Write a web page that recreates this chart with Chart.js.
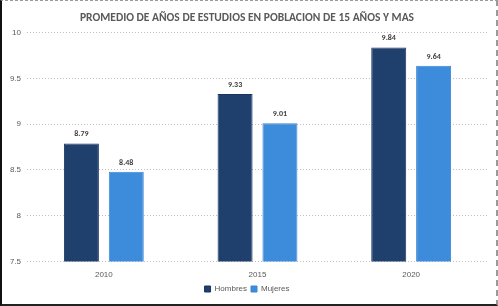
<!DOCTYPE html>
<html>
<head>
<meta charset="utf-8">
<script src="https://cdn.jsdelivr.net/npm/chart.js@4.4.0/dist/chart.umd.min.js"></script>
<style>
    html, body { margin: 0; padding: 0; background: #fff; }
    #frame {
        width: 498px; height: 306px; box-sizing: border-box;
        border-top: 1px dashed #9a9a9a; border-right: 2px dashed #9a9a9a;
        border-left: 2px solid #111; border-bottom: 2px solid #222;
        position: relative;
    }
    #wrap { position: absolute; left: 0; top: 0; right: 0; bottom: 0; }
</style>
</head>
<body>
<div id="frame"><div id="wrap"><canvas id="chart"></canvas></div></div>
<script>
// Chart data
const years = ['2010', '2015', '2020'];
const hombres = [8.79, 9.33, 9.84];
const mujeres = [8.48, 9.01, 9.64];
const yTicks = [7.5, 8, 8.5, 9, 9.5, 10];

const textColor = '#595959';

// Draws the value above each bar
const valueLabels = {
    id: 'valueLabels',
    afterDatasetsDraw(chart) {
        const ctx = chart.ctx;
        ctx.save();
        ctx.font = 'bold 8px Calibri, Carlito, "Liberation Sans", Arial, sans-serif';
        ctx.fillStyle = '#404040';
        ctx.textAlign = 'center';
        ctx.textBaseline = 'bottom';
        chart.data.datasets.forEach((ds, i) => {
            chart.getDatasetMeta(i).data.forEach((bar, j) => {
                ctx.fillText(ds.data[j].toFixed(2), bar.x, bar.y - 5);
            });
        });
        ctx.restore();
    }
};

new Chart(document.getElementById('chart'), {
    type: 'bar',
    data: {
        labels: years,
        datasets: [
            { label: 'Hombres', data: hombres, backgroundColor: '#1f3f6c', borderColor: '#1a3560', borderWidth: 1 },
            { label: 'Mujeres', data: mujeres, backgroundColor: '#3d8bdb', borderColor: '#3a86d6', borderWidth: 1 }
        ]
    },
    plugins: [valueLabels],
    options: {
        responsive: true,
        maintainAspectRatio: false,
        animation: false,
        layout: { padding: { left: 4, right: 8, top: 4, bottom: 1 } },
        datasets: {
            bar: { categoryPercentage: 0.584, barPercentage: 0.78 }
        },
        plugins: {
            title: {
                display: true,
                text: 'PROMEDIO DE AÑOS DE ESTUDIOS EN POBLACION DE 15 AÑOS Y MAS',
                color: textColor,
                font: { family: 'Calibri, Carlito, "Open Sans", sans-serif', size: 11.5, weight: 'bold' },
                padding: { top: 6, bottom: 8 }
            },
            legend: {
                position: 'bottom',
                labels: {
                    color: textColor,
                    boxWidth: 6, boxHeight: 6,
                    padding: 4,
                    font: { family: '"Liberation Sans", Arial, sans-serif', size: 8 }
                }
            },
            tooltip: { enabled: false }
        },
        scales: {
            x: {
                grid: { display: false },
                border: { display: false },
                ticks: { color: textColor, font: { family: '"Liberation Sans", Arial, sans-serif', size: 8 }, padding: 1 }
            },
            y: {
                min: 7.5,
                max: 10,
                afterBuildTicks: (scale) => { scale.ticks = yTicks.map(v => ({ value: v })); },
                afterFit: (scale) => { scale.width = 21; },
                border: { display: false, dash: [1, 2] },
                grid: { color: '#bfbfbf', lineWidth: 1, drawTicks: false },
                ticks: {
                    color: textColor, padding: 6,
                    font: { family: '"Liberation Sans", Arial, sans-serif', size: 8 },
                    callback: (v) => String(v)
                }
            }
        }
    }
});
</script>
</body>
</html>
